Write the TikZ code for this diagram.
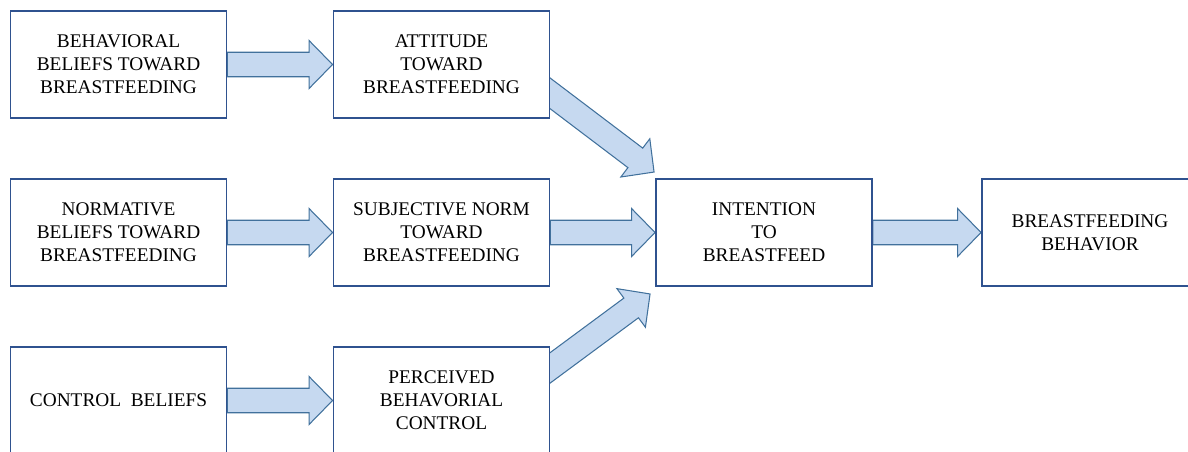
\documentclass[tikz,border=0pt]{standalone}
\usepackage{fontspec}
\setmainfont{Liberation Serif}
\newfontfamily\timesfont{Liberation Serif}
\usetikzlibrary{calc,backgrounds}
\definecolor{boxblue}{RGB}{47,82,143}
\definecolor{arrfill}{RGB}{198,217,240}
\definecolor{arrline}{RGB}{65,113,156}

\begin{document}
\begin{tikzpicture}[x=0.02cm,y=-0.02cm,
		box/.style={draw=boxblue,line width=1.1pt,fill=white,minimum width=4.32cm,minimum height=2.14cm,align=center,inner sep=0pt,font=\timesfont\fontsize{11}{13}\selectfont},
		blockarr/.style={draw=arrline,line width=0.6pt,fill=arrfill,line join=miter}]
		\useasboundingbox (0,0) rectangle (1188,451);
		\clip (0,0) rectangle (1188,451);

		\node[box] at (118.5,64.5)(bb){BEHAVIORAL\\BELIEFS TOWARD\\BREASTFEEDING};
		\node[box] at (441.5,64.5)(att){ATTITUDE\\TOWARD\\BREASTFEEDING};
		\node[box] at (118.5,232.5)(nb){NORMATIVE\\BELIEFS TOWARD\\BREASTFEEDING};
		\node[box] at (441.5,232.5)(sn){SUBJECTIVE NORM\\TOWARD\\BREASTFEEDING};
		\node[box] at (118.5,400.5)(cb){CONTROL\ \ BELIEFS};
		\node[box] at (441.5,400.5)(pbc){PERCEIVED\\BEHAVORIAL\\CONTROL};
		\node[box] at (764,232.5)(int){INTENTION\\TO\\BREASTFEED};
		\node[box] at (1090,232.5)(beh){BREASTFEEDING\\BEHAVIOR};

		\coordinate (a1) at ($(att.east)+(-12,20)$);
		\coordinate (a2) at ($(int.north west)+(-1,-6)$);
		\coordinate (p1) at ($(pbc.east)+(-12,-24)$);
		\coordinate (p2) at ($(int.south west)+(-5,7)$);

		\begin{scope}[on background layer]
		\foreach \s/\t in {bb.east/att.west,nb.east/sn.west,cb.east/pbc.west,sn.east/int.west,int.east/beh.west,a1/a2,p1/p2}{
			\coordinate (h) at ($(\t)!0.47cm!(\s)$);
			\path[blockarr] ($(\s)!0.245cm!90:(\t)$) -- ($(h)!0.245cm!90:(\t)$) -- ($(h)!0.48cm!90:(\t)$) -- (\t)
				-- ($(h)!0.48cm!-90:(\t)$) -- ($(h)!0.245cm!-90:(\t)$) -- ($(\s)!0.245cm!-90:(\t)$) -- cycle;
		}
		\end{scope}
	\end{tikzpicture}
\end{document}
